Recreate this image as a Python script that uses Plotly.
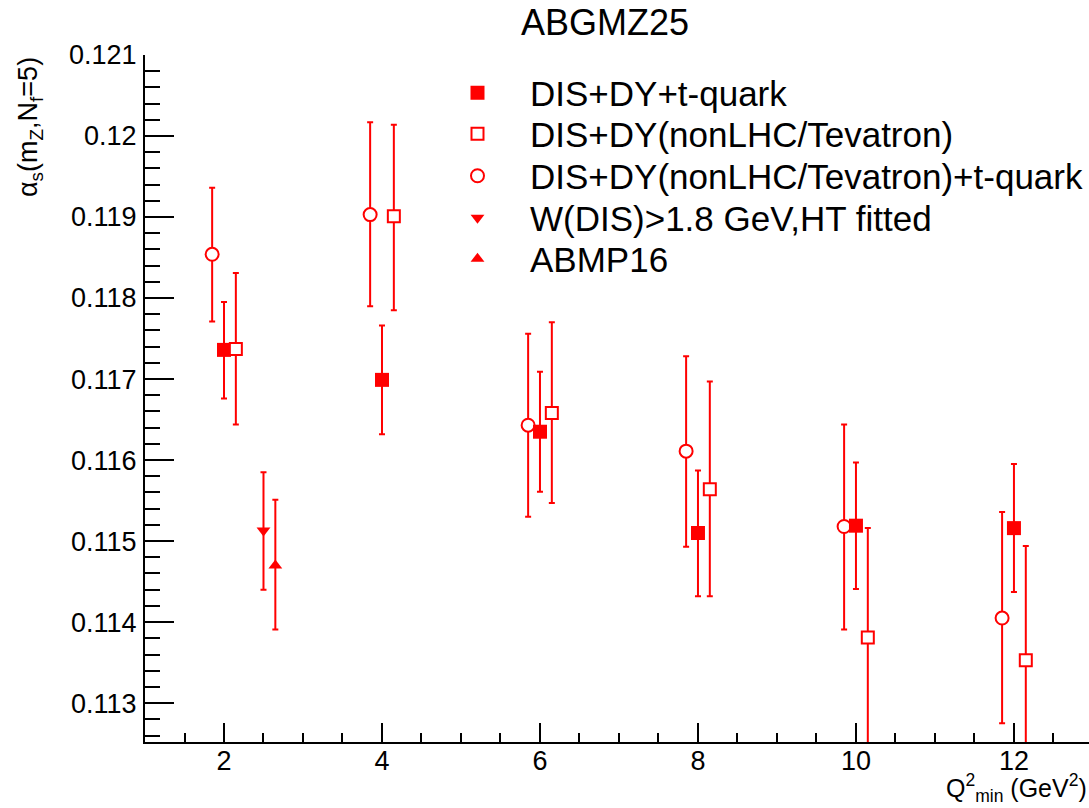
import plotly.graph_objects as go

# ---------------- data ----------------
q2_filled = [2, 4, 6, 8, 10, 12]
as_filled = [0.11736, 0.11699, 0.11635, 0.11510, 0.11519, 0.11516]
err_filled_plus = [0.00059, 0.00067, 0.00074, 0.00077, 0.00078, 0.00079]
err_filled_minus = [0.00060, 0.00067, 0.00074, 0.00078, 0.00078, 0.00079]

q2_open = [2.15, 4.15, 6.15, 8.15, 10.15, 12.15]
as_open = [0.11737, 0.11901, 0.11658, 0.11564, 0.11381, 0.11353]
err_open_plus = [0.00094, 0.00113, 0.00112, 0.00133, 0.00135, 0.00141]
err_open_minus = [0.00093, 0.00116, 0.00111, 0.00132, 0.00135, 0.00141]

q2_circ = [1.85, 3.85, 5.85, 7.85, 9.85, 11.85]
as_circ = [0.11854, 0.11903, 0.11643, 0.11611, 0.11518, 0.11405]
err_circ_plus = [0.00082, 0.00114, 0.00113, 0.00117, 0.00126, 0.00131]
err_circ_minus = [0.00083, 0.00113, 0.00113, 0.00118, 0.00127, 0.00130]

q2_wdis = [2.5]
as_wdis = [0.11513]
err_wdis_plus = [0.00072]
err_wdis_minus = [0.00073]

q2_abmp = [2.65]
as_abmp = [0.11470]
err_abmp_plus = [0.00081]
err_abmp_minus = [0.00079]

names = ["DIS+DY+t-quark", "DIS+DY(nonLHC/Tevatron)",
         "DIS+DY(nonLHC/Tevatron)+t-quark", "W(DIS)>1.8 GeV,HT fitted", "ABMP16"]

x_tickvals = [2, 4, 6, 8, 10, 12]
x_ticktext = ["2", "4", "6", "8", "10", "12"]
y_tickvals = [0.113, 0.114, 0.115, 0.116, 0.117, 0.118, 0.119, 0.120, 0.121]
y_ticktext = ["0.113", "0.114", "0.115", "0.116", "0.117", "0.118", "0.119", "0.12", "0.121"]

# ---------------- layout geometry ----------------
W, H = 1089, 808
L_PX, R_PX, T_PX, B_PX = 145, 1089, 55, 742
FONT = "Liberation Sans, Arial, Helvetica, sans-serif"
RED = "#ff0000"


def px_x(px):
    return (px - L_PX) / (R_PX - L_PX)


def px_y(py):
    return (B_PX - py) / (B_PX - T_PX)


def err(plus, minus):
    return dict(type="data", symmetric=False, array=plus, arrayminus=minus,
                color=RED, thickness=2, width=3)


fig = go.Figure()

# draw order: circles, filled squares, open squares, triangles
fig.add_trace(go.Scatter(
    x=q2_circ, y=as_circ, mode="markers", name=names[2], legend="legend3",
    marker=dict(symbol="circle", size=13, color="white", line=dict(color=RED, width=2)),
    error_y=err(err_circ_plus, err_circ_minus)))
fig.add_trace(go.Scatter(
    x=q2_filled, y=as_filled, mode="markers", name=names[0], legend="legend",
    marker=dict(symbol="square", size=14, color=RED, line=dict(width=0)),
    error_y=err(err_filled_plus, err_filled_minus)))
fig.add_trace(go.Scatter(
    x=q2_open, y=as_open, mode="markers", name=names[1], legend="legend2",
    marker=dict(symbol="square", size=12, color="white", line=dict(color=RED, width=2)),
    error_y=err(err_open_plus, err_open_minus)))
fig.add_trace(go.Scatter(
    x=q2_wdis, y=as_wdis, mode="markers", name=names[3], legend="legend4",
    marker=dict(symbol="triangle-down", size=12, color=RED, line=dict(width=0)),
    error_y=err(err_wdis_plus, err_wdis_minus)))
fig.add_trace(go.Scatter(
    x=q2_abmp, y=as_abmp, mode="markers", name=names[4], legend="legend5",
    marker=dict(symbol="triangle-up", size=12, color=RED, line=dict(width=0)),
    error_y=err(err_abmp_plus, err_abmp_minus)))

legend_rows_px = [93, 134, 176, 218, 259]
leg_common = dict(font=dict(family=FONT, size=35, color="black"), bgcolor="rgba(0,0,0,0)",
                  borderwidth=0, xanchor="left", yanchor="middle", itemwidth=95,
                  itemclick=False, itemdoubleclick=False)
leg_x = px_x(425)
legends = {}
for i, key in enumerate(["legend", "legend2", "legend3", "legend4", "legend5"]):
    legends[key] = dict(x=leg_x, y=px_y(legend_rows_px[i]), **leg_common)

axis_common = dict(showline=True, linecolor="black", linewidth=2, mirror=False,
                   showgrid=False, zeroline=False, ticks="inside", tickcolor="black",
                   tickwidth=1.5, tickfont=dict(family=FONT, size=27, color="black"))

fig.update_layout(
    width=W, height=H,
    margin=dict(l=L_PX, r=W - R_PX, t=T_PX, b=H - B_PX, pad=0),
    plot_bgcolor="white", paper_bgcolor="white",
    font=dict(family=FONT, color="black"),
    xaxis=dict(range=[1, 12.95], tickvals=x_tickvals, ticktext=x_ticktext, ticklen=19,
               ticklabelstandoff=-6,
               minor=dict(ticks="inside", dtick=0.5, tick0=0, ticklen=9, tickwidth=1.5,
                          tickcolor="black", showgrid=False),
               **axis_common),
    yaxis=dict(range=[0.11252, 0.121], tickvals=y_tickvals, ticktext=y_ticktext, ticklen=29,
               ticklabelstandoff=1,
               minor=dict(ticks="inside", dtick=0.0002, tick0=0.113, ticklen=15, tickwidth=1.5,
                          tickcolor="black", showgrid=False),
               **axis_common),
    showlegend=True,
    **legends,
)

fig.add_annotation(text="ABGMZ25", xref="paper", yref="paper", x=px_x(605), y=px_y(22),
                   xanchor="center", yanchor="middle", showarrow=False,
                   font=dict(family=FONT, size=36, color="black"))
fig.add_annotation(text="α<sub>s</sub>(m<sub>Z</sub>,N<sub>f</sub>=5)", xref="paper", yref="paper",
                   x=px_x(30), y=1.0, xanchor="center", yanchor="top", textangle=-90,
                   showarrow=False, font=dict(family=FONT, size=27, color="black"))
fig.add_annotation(text="Q<sup>2</sup><sub>min</sub> (GeV<sup>2</sup>)", xref="paper", yref="paper",
                   x=1.0, y=px_y(788), xanchor="right", yanchor="middle",
                   showarrow=False, font=dict(family=FONT, size=25, color="black"))

fig.write_html("out.html")
